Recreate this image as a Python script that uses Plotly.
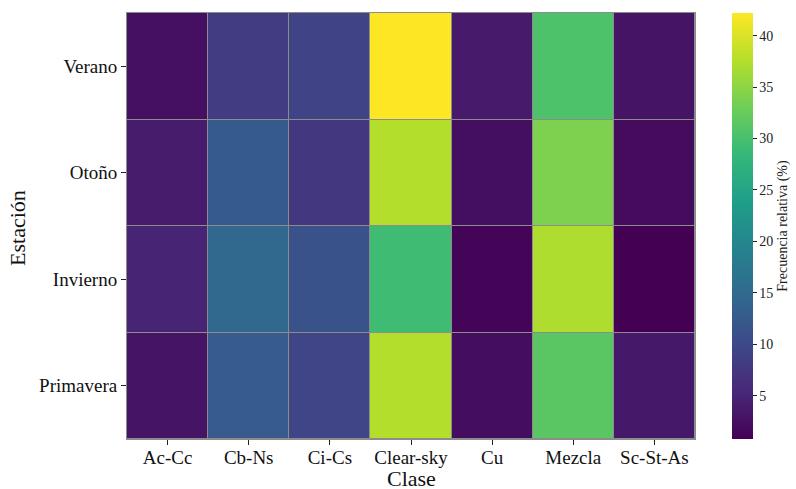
import plotly.graph_objects as go

clases = ["Ac-Cc", "Cb-Ns", "Ci-Cs", "Clear-sky", "Cu", "Mezcla", "Sc-St-As"]
estaciones = ["Verano", "Otoño", "Invierno", "Primavera"]

verano = [2.6, 8.3, 9.2, 42.2, 3.8, 30.4, 3.0]
otono = [4.0, 12.5, 7.5, 37.5, 2.5, 34.0, 2.0]
invierno = [4.9, 14.8, 11.3, 29.2, 1.2, 37.2, 0.8]
primavera = [3.0, 12.7, 9.5, 37.5, 2.2, 31.4, 3.5]

z = [verano, otono, invierno, primavera]

font = "Liberation Serif"

fig = go.Figure(go.Heatmap(
    z=z, x=clases, y=estaciones,
    colorscale="Viridis",
    xgap=1, ygap=1,
    colorbar=dict(
        title=dict(text="Frecuencia relativa (%)", side="right",
                   font=dict(family=font, size=14, color="#222")),
        x=1.0646, xanchor="left", xpad=0,
        y=0, yanchor="bottom", len=1, lenmode="fraction", ypad=0,
        thickness=21, outlinewidth=0,
        ticks="outside", ticklen=4, tickcolor="#222",
        tickvals=[5, 10, 15, 20, 25, 30, 35, 40],
        tickfont=dict(family=font, size=14, color="#222"),
    ),
))

fig.update_layout(
    width=796, height=489,
    margin=dict(l=127, r=101, t=13, b=50, autoexpand=False),
    paper_bgcolor="white", plot_bgcolor="#8c8c8c",
    font=dict(family=font, color="#111"),
    annotations=[
        dict(text="Clase", xref="paper", yref="paper", x=0.5, y=-0.0925,
             xanchor="center", yanchor="middle", showarrow=False,
             font=dict(family=font, size=22, color="#111")),
        dict(text="Estación", xref="paper", yref="paper", x=-0.1928, y=0.4965,
             xanchor="center", yanchor="middle", showarrow=False, textangle=-90,
             font=dict(family=font, size=22, color="#111")),
    ],
)
fig.update_xaxes(
    tickfont=dict(family=font, size=19),
    ticks="outside", ticklen=5, tickcolor="#222", ticklabelstandoff=-4,
    showline=True, linecolor="#8c8c8c", linewidth=1, mirror=True,
    showgrid=False, zeroline=False, automargin=False,
)
fig.update_yaxes(
    tickfont=dict(family=font, size=19),
    ticks="outside", ticklen=5, tickcolor="#222",
    autorange="reversed",
    showline=True, linecolor="#8c8c8c", linewidth=1, mirror=True,
    showgrid=False, zeroline=False, automargin=False,
)

fig.write_html("out.html", config={"displayModeBar": False},
               post_script="document.body.style.margin='0';document.body.style.padding='0';")
